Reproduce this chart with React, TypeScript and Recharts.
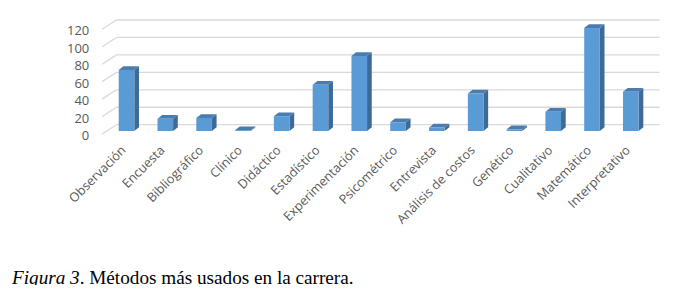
import React from "react";
import { BarChart, Bar, XAxis, YAxis, CartesianGrid } from "recharts";

const categories = [
  "Observación",
  "Encuesta",
  "Bibliográfico",
  "Clínico",
  "Didáctico",
  "Estadístico",
  "Experimentación",
  "Psicométrico",
  "Entrevista",
  "Análisis de costos",
  "Genético",
  "Cualitativo",
  "Matemático",
  "Interpretativo",
];
const values = [70, 14, 15, 1, 17, 53, 86, 10, 4, 43, 2, 22, 118, 45];
const yTicks = [0, 20, 40, 60, 80, 100, 120];

const data = categories.map((name, i) => ({ name, value: values[i] }));

const FRONT_DX = -4.6;
const FRONT_DY = 3;
const BACK_DX = 9.7;
const BACK_DY = -6.3;
const GRID = "#D9D9D9";
const LABEL = "#595959";
const FONT = "'Open Sans', sans-serif";

const GridLine = (props: any) => {
  const { x1, x2, y1 } = props;
  return (
    <g>
      <line x1={x1 + FRONT_DX} y1={y1 + FRONT_DY} x2={x1 + BACK_DX} y2={y1 + BACK_DY} stroke={GRID} strokeWidth={1.3} />
      <line x1={x1 + BACK_DX} y1={y1 + BACK_DY} x2={x2 + BACK_DX} y2={y1 + BACK_DY} stroke={GRID} strokeWidth={1.3} />
    </g>
  );
};

const Bar3D = (props: any) => {
  const { x, y, width, height } = props;
  if (x == null || y == null) return null;
  const d = 4.7;
  const dy = 3.7;
  const w = width;
  const h = Math.max(height, 0);
  return (
    <g>
      <polygon
        points={`${x + w},${y} ${x + w + d},${y - dy} ${x + w + d},${y + h - dy} ${x + w},${y + h}`}
        fill="#3D6A96"
      />
      <polygon
        points={`${x},${y} ${x + d},${y - dy} ${x + w + d},${y - dy} ${x + w},${y}`}
        fill="#4A7CAE"
      />
      <rect x={x} y={y} width={w} height={h} fill="#5B9BD5" />
    </g>
  );
};

const YTick = (props: any) => {
  const { x, y, payload } = props;
  return (
    <text x={x - 17.4} y={y + 4} textAnchor="end" dominantBaseline="central" fontFamily={FONT} fontSize={13} fill={LABEL}>
      {payload.value}
    </text>
  );
};

const XTick = (props: any) => {
  const { x, y, payload } = props;
  const tx = x + 0.5;
  const ty = y + 20;
  return (
    <text x={tx} y={ty} transform={`rotate(-45, ${tx}, ${ty})`} textAnchor="end" fontFamily={FONT} fontSize={12.7} fill={LABEL}>
      {payload.value}
    </text>
  );
};

export default function App() {
  return (
    <div style={{ position: "relative", width: 675, height: 277 }}>
      <BarChart
        width={675}
        height={277}
        data={data}
        margin={{ top: 18.3, right: 33.2, bottom: 0, left: 38.7 }}
        barCategoryGap="30%"
      >
        <CartesianGrid vertical={false} horizontal={(p: any) => <GridLine key={p.key} {...p} />} />
        <YAxis
          width={60}
          domain={[0, 120]}
          ticks={yTicks}
          axisLine={false}
          tickLine={false}
          tickSize={0}
          tickMargin={0}
          tick={<YTick />}
          interval={0}
        />
        <XAxis
          dataKey="name"
          height={154}
          axisLine={false}
          tickLine={false}
          tickSize={0}
          tickMargin={0}
          interval={0}
          tick={<XTick />}
        />
        <Bar dataKey="value" barSize={15.6} shape={<Bar3D />} isAnimationActive={false} />
      </BarChart>
      <div
        style={{
          position: "absolute",
          left: 4,
          top: 261,
          fontFamily: "'Liberation Serif', 'Times New Roman', serif",
          fontSize: 19.2,
          lineHeight: "18px",
          color: "#000",
          whiteSpace: "nowrap",
        }}
      >
        <i>Figura 3</i>. Métodos más usados en la carrera.
      </div>
    </div>
  );
}
